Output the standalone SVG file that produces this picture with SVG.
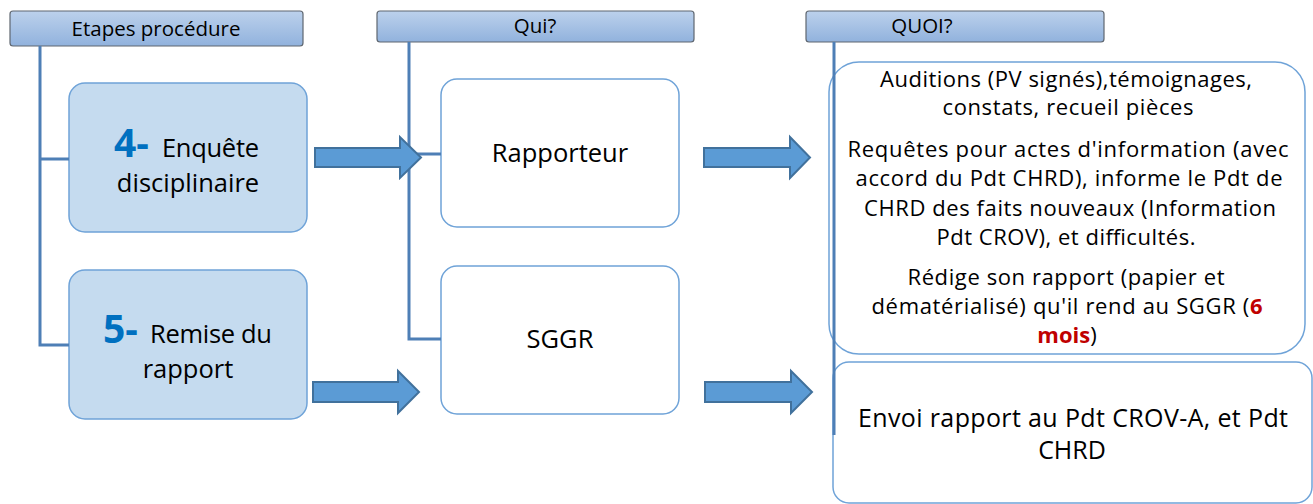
<svg xmlns="http://www.w3.org/2000/svg" width="1313" height="504" viewBox="0 0 1313 504">
  <defs>
    <linearGradient id="hdrGrad" x1="0" y1="0" x2="0" y2="1">
      <stop offset="0" stop-color="#bcd1ec"/>
      <stop offset="1" stop-color="#91b2dd"/>
    </linearGradient>
    <style>
      .hdr { fill: url(#hdrGrad); stroke: #5f6770; stroke-width: 1.2; }
      .hdr-t { font-family: "Open Sans", "Liberation Sans", sans-serif; font-size: 20.5px; fill: #000; text-anchor: middle; }
      .tree { fill: none; stroke: #4e7fb6; stroke-width: 3; }
      .step { fill: #c5dbef; stroke: #6fa3d8; stroke-width: 1.5; }
      .who { fill: #fff; stroke: #6fa3d8; stroke-width: 1.5; }
      .what { fill: #fff; stroke: #6fa3d8; stroke-width: 1.5; }
      .arrow { fill: #5b9bd5; stroke: #41719c; stroke-width: 2; stroke-linejoin: miter; }
      .t { font-family: "Open Sans", "Liberation Sans", sans-serif; fill: #000; text-anchor: middle; }
      .s { font-family: "Open Sans", "Liberation Sans", sans-serif; fill: #000; }
      .big { font-size: 25.5px; }
      .num { font-family: "Open Sans", "Liberation Sans", sans-serif; font-weight: bold; font-size: 39px; fill: #0070c0; }
      .body { font-size: 22px; }
      .body2 { font-size: 25px; }
      .red { fill: #c00000; font-weight: bold; }
    </style>
  </defs>

  <!-- column headers -->
  <g id="hdr-etapes">
    <rect class="hdr" x="10" y="11" width="293" height="35" rx="3"/>
    <text class="hdr-t" x="156" y="36">Etapes procédure</text>
  </g>
  <g id="hdr-qui">
    <rect class="hdr" x="377" y="11" width="317" height="31" rx="3"/>
    <text class="hdr-t" x="535" y="33">Qui?</text>
  </g>
  <g id="hdr-quoi">
    <rect class="hdr" x="806" y="11" width="298" height="31" rx="3"/>
    <text class="hdr-t" x="922" y="33">QUOI?</text>
  </g>

  <!-- step nodes -->
  <g id="step-4">
    <rect class="step" x="69" y="83" width="238" height="149" rx="16"/>
    <text class="num" x="114" y="157">4-</text>
    <text class="s big" x="162" y="157" textLength="97">Enquête</text>
    <text class="t big" x="188" y="192">disciplinaire</text>
  </g>
  <g id="step-5">
    <rect class="step" x="69" y="270" width="238" height="149" rx="16"/>
    <text class="num" x="103" y="343">5-</text>
    <text class="s big" x="150" y="343" textLength="122">Remise du</text>
    <text class="t big" x="188" y="378">rapport</text>
  </g>

  <!-- actor nodes -->
  <g id="who-rapporteur">
    <rect class="who" x="441" y="79" width="238" height="148" rx="16"/>
    <text class="t big" x="560" y="162">Rapporteur</text>
  </g>
  <g id="who-sggr">
    <rect class="who" x="441" y="266" width="238" height="148" rx="16"/>
    <text class="t big" x="560" y="348">SGGR</text>
  </g>

  <!-- task nodes -->
  <g id="what-enquete">
    <rect class="what" x="829" y="62" width="476" height="292" rx="30"/>
    <g class="t body">
      <text x="1066" y="87" textLength="372">Auditions (PV signés),témoignages,</text>
      <text x="1068" y="115" textLength="251">constats, recueil pièces</text>
      <text x="1068" y="157" textLength="441">Requêtes pour actes d'information (avec</text>
      <text x="1069" y="186" textLength="427">accord du Pdt CHRD), informe le Pdt de</text>
      <text x="1070" y="216" textLength="412">CHRD des faits nouveaux (Information</text>
      <text x="1066" y="245" textLength="259">Pdt CROV), et difficultés.</text>
      <text x="1066" y="285" textLength="317">Rédige son rapport (papier et</text>
      <text x="1067" y="314" textLength="391">dématérialisé) qu'il rend au SGGR (<tspan class="red">6</tspan></text>
      <text x="1067" y="343"><tspan class="red">mois</tspan>)</text>
    </g>
  </g>
  <g id="what-envoi">
    <rect class="what" x="833" y="362" width="479" height="141" rx="16"/>
    <g class="t body2">
      <text x="1073" y="427" textLength="430">Envoi rapport au Pdt CROV-A, et Pdt</text>
      <text x="1072" y="459">CHRD</text>
    </g>
  </g>

  <!-- connectors: column trees and flow arrows -->
  <g id="connectors">
    <path class="tree" d="M40 46 V345 H69 M40 159 H69"/>
    <path class="tree" d="M409 42 V339 H441 M409 154 H441"/>
    <path class="tree" d="M834 42 V435"/>
    <path class="arrow" d="M315 148 H400 V137 L421 157.5 L400 178 V167 H315 Z"/>
    <path class="arrow" d="M313 382 H398 V371 L419 392 L398 413 V402 H313 Z"/>
    <path class="arrow" d="M704 148 H790 V137 L810 157.5 L790 178 V167 H704 Z"/>
    <path class="arrow" d="M705 382 H791 V371 L812 392 L791 413 V402 H705 Z"/>
  </g>
</svg>
